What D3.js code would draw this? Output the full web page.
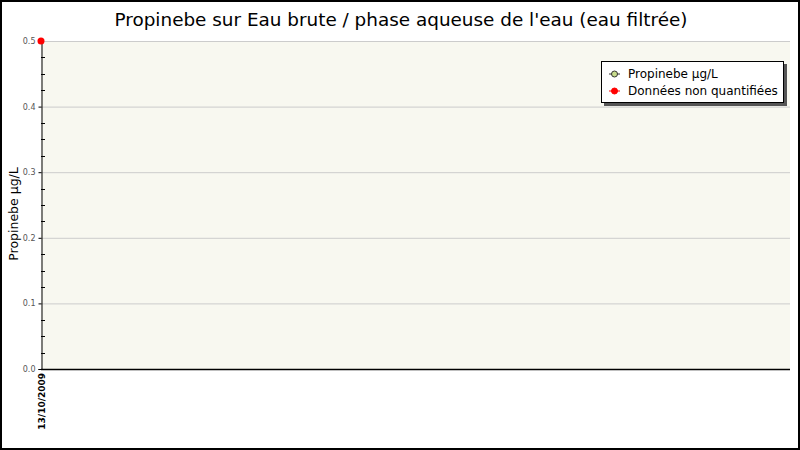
<!DOCTYPE html>
<html><head><meta charset="utf-8">
<script src="https://cdn.jsdelivr.net/npm/d3@7"></script>
<style>body{margin:0;background:#fff}svg{display:block}text{font-family:"DejaVu Sans",sans-serif}</style>
</head><body>
<svg id="c" width="800" height="450"></svg>
<script>
const title = "Propinebe sur Eau brute / phase aqueuse de l'eau (eau filtrée)";
const yLabel = "Propinebe µg/L";
const dates = ["13/10/2009"];
const valuesQuantified = [null];
const valuesNonQuantified = [0.5];
const yTicks = [0, 0.1, 0.2, 0.3, 0.4, 0.5];
const legendLabels = ["Propinebe µg/L", "Données non quantifiées"];

const svg = d3.select("#c");
const W = 800, H = 450;
const m = {l: 41, r: 10, t: 41, b: 81};
const x = d3.scalePoint().domain(dates).range([m.l, W - m.r]).padding(0).align(0);
const y = d3.scaleLinear().domain([0, 0.5]).range([H - m.b, m.t]);

svg.append("rect").attr("x",1).attr("y",1).attr("width",W-2).attr("height",H-2)
  .attr("fill","#fff").attr("stroke","#000").attr("stroke-width",2);
svg.append("rect").attr("x",m.l).attr("y",m.t).attr("width",W-m.r-m.l).attr("height",H-m.b-m.t)
  .attr("fill","#f8f8f0");

// grid
svg.append("g").selectAll("line").data(yTicks.filter(d=>d>0)).join("line")
  .attr("x1",m.l).attr("x2",W-m.r).attr("y1",d=>y(d)+0.5).attr("y2",d=>y(d)+0.5)
  .attr("stroke","#cccccc").attr("stroke-width",1);

// y axis
const ya = svg.append("g").attr("transform",`translate(${m.l+0.5},0)`)
  .call(d3.axisLeft(y).tickValues(yTicks).tickFormat(d3.format(".1f")).tickSize(3).tickPadding(3));
ya.select(".domain").attr("stroke","#000");
ya.selectAll(".tick text").attr("font-size",8).attr("fill","#555").attr("font-family","DejaVu Sans, sans-serif");
const minor = d3.range(0, 0.5001, 0.025).filter(v => Math.abs(v*10 - Math.round(v*10)) > 1e-6);
svg.append("g").selectAll("line").data(minor).join("line")
  .attr("x1",m.l).attr("x2",m.l+4).attr("y1",d=>Math.round(y(d))+0.5).attr("y2",d=>Math.round(y(d))+0.5)
  .attr("stroke","#000");

// x axis
svg.append("line").attr("x1",m.l).attr("x2",W-m.r).attr("y1",H-m.b+0.5).attr("y2",H-m.b+0.5)
  .attr("stroke","#000").attr("stroke-width",1.5);
svg.append("g").selectAll("text").data(dates).join("text")
  .attr("transform",d=>`translate(${x(d)+4},${H-m.b+4}) rotate(-90)`)
  .attr("text-anchor","end").attr("font-size",9).attr("font-weight","bold").attr("fill","#000")
  .text(d=>d);

// points
svg.append("g").selectAll("circle").data(dates.map((d,i)=>({d,v:valuesNonQuantified[i]})).filter(p=>p.v!=null))
  .join("circle").attr("cx",p=>x(p.d)).attr("cy",p=>y(p.v)).attr("r",3.5).attr("fill","#ff0000");

// title & y label
svg.append("text").attr("x",401).attr("y",26).attr("text-anchor","middle").attr("font-size",18.4).attr("fill","#000").text(title);
svg.append("text").attr("transform","translate(18,214) rotate(-90)").attr("text-anchor","middle")
  .attr("font-size",12.5).attr("fill","#000").text(yLabel);

// legend
const lg = svg.append("g");
lg.append("rect").attr("x",604).attr("y",64).attr("width",183).attr("height",42).attr("fill","#555");
lg.append("rect").attr("x",601.5).attr("y",61.5).attr("width",182).attr("height",41).attr("fill","#fff").attr("stroke","#000");
const colors = [{fill:"#c8dc8c",stroke:"#333",line:"#333"},{fill:"#ff0000",stroke:"#ff0000",line:"#ff0000"}];
legendLabels.forEach((t,i)=>{
  const yy = 74 + i*17;
  lg.append("line").attr("x1",609).attr("x2",620).attr("y1",yy).attr("y2",yy).attr("stroke",colors[i].line);
  lg.append("circle").attr("cx",614.5).attr("cy",yy).attr("r",3).attr("fill",colors[i].fill).attr("stroke",colors[i].stroke);
  lg.append("text").attr("x",628).attr("y",yy+4).attr("font-size",12).attr("fill","#000").text(t);
});
</script>
</body></html>
